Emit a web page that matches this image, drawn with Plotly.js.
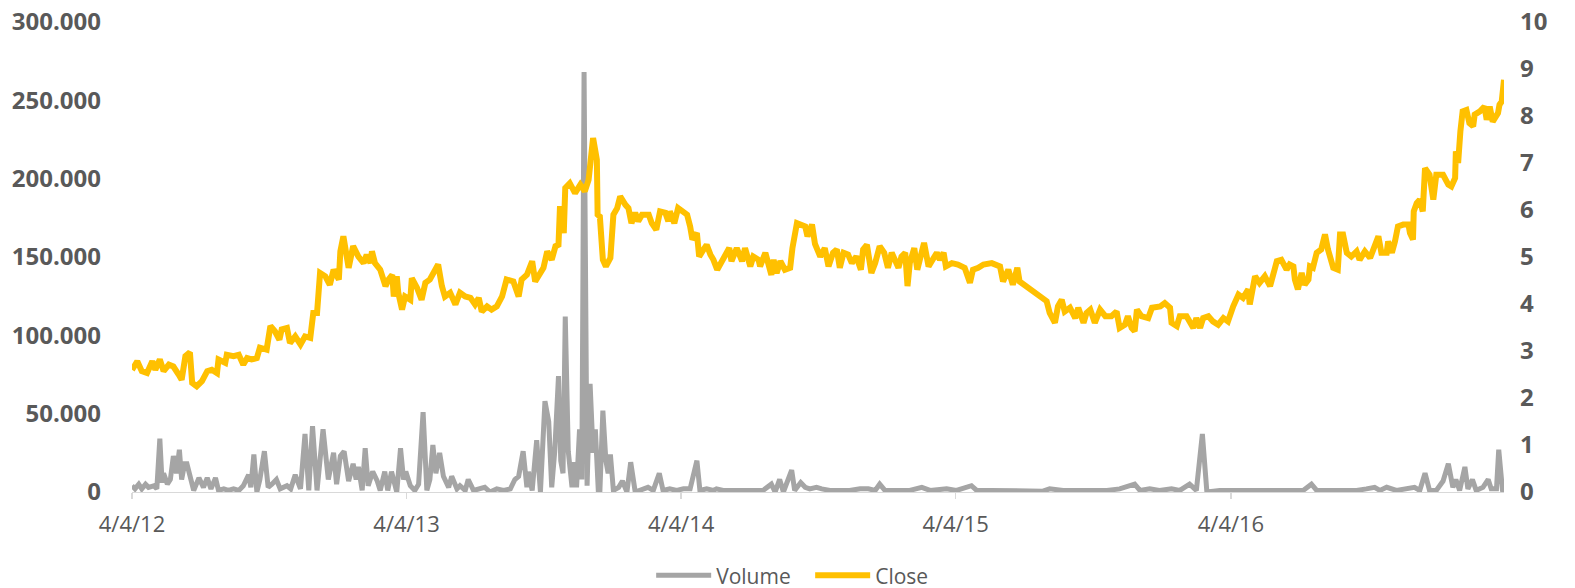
<!DOCTYPE html>
<html>
<head>
<meta charset="utf-8">
<script src="https://cdn.plot.ly/plotly-3.0.1.min.js"></script>
<style>html,body{margin:0;padding:0;background:#fff;}#chart{width:1575px;height:588px;}</style>
</head>
<body>
<div id="chart"></div>
<script>
const closeDates = ["2012-04-04","2012-04-11","2012-04-17","2012-04-24","2012-05-01","2012-05-05","2012-05-11","2012-05-16","2012-05-23","2012-05-29","2012-06-05","2012-06-09","2012-06-14","2012-06-20","2012-06-23","2012-06-29","2012-07-06","2012-07-13","2012-07-19","2012-07-26","2012-07-28","2012-08-06","2012-08-08","2012-08-17","2012-08-24","2012-08-30","2012-09-04","2012-09-10","2012-09-17","2012-09-21","2012-09-30","2012-10-05","2012-10-11","2012-10-17","2012-10-20","2012-10-27","2012-10-31","2012-11-07","2012-11-14","2012-11-20","2012-11-27","2012-12-01","2012-12-06","2012-12-10","2012-12-17","2012-12-23","2012-12-28","2013-01-04","2013-01-06","2013-01-10","2013-01-17","2013-01-23","2013-01-30","2013-02-06","2013-02-10","2013-02-15","2013-02-17","2013-02-21","2013-02-28","2013-03-04","2013-03-07","2013-03-11","2013-03-16","2013-03-18","2013-03-22","2013-03-24","2013-03-29","2013-04-02","2013-04-09","2013-04-11","2013-04-18","2013-04-24","2013-04-29","2013-05-05","2013-05-10","2013-05-16","2013-05-21","2013-05-25","2013-06-01","2013-06-08","2013-06-14","2013-06-21","2013-06-28","2013-07-04","2013-07-09","2013-07-13","2013-07-20","2013-07-26","2013-08-02","2013-08-09","2013-08-15","2013-08-24","2013-08-31","2013-09-04","2013-09-11","2013-09-18","2013-09-22","2013-09-29","2013-10-03","2013-10-08","2013-10-14","2013-10-19","2013-10-23","2013-10-25","2013-10-30","2013-11-01","2013-11-07","2013-11-14","2013-11-21","2013-11-27","2013-12-02","2013-12-08","2013-12-13","2013-12-14","2013-12-17","2013-12-21","2013-12-25","2013-12-31","2014-01-04","2014-01-09","2014-01-13","2014-01-20","2014-01-24","2014-01-28","2014-02-02","2014-02-06","2014-02-11","2014-02-20","2014-02-24","2014-03-02","2014-03-07","2014-03-14","2014-03-18","2014-03-20","2014-03-26","2014-03-31","2014-04-07","2014-04-12","2014-04-16","2014-04-19","2014-04-25","2014-04-28","2014-05-04","2014-05-08","2014-05-13","2014-05-17","2014-05-22","2014-05-28","2014-06-01","2014-06-07","2014-06-10","2014-06-17","2014-06-24","2014-06-28","2014-07-05","2014-07-09","2014-07-16","2014-07-18","2014-07-25","2014-07-29","2014-08-02","2014-08-05","2014-08-09","2014-08-14","2014-08-20","2014-08-27","2014-08-30","2014-09-05","2014-09-11","2014-09-16","2014-09-19","2014-09-25","2014-09-29","2014-10-06","2014-10-12","2014-10-17","2014-10-23","2014-10-28","2014-11-01","2014-11-06","2014-11-12","2014-11-17","2014-11-23","2014-11-29","2014-12-02","2014-12-07","2014-12-13","2014-12-18","2014-12-24","2014-12-30","2015-01-04","2015-01-09","2015-01-18","2015-01-22","2015-01-27","2015-01-30","2015-02-02","2015-02-08","2015-02-12","2015-02-17","2015-02-21","2015-02-27","2015-03-05","2015-03-10","2015-03-14","2015-03-19","2015-03-22","2015-03-30","2015-04-07","2015-04-16","2015-04-23","2015-04-27","2015-05-04","2015-05-11","2015-05-22","2015-06-02","2015-06-06","2015-06-13","2015-06-19","2015-06-25","2015-06-28","2015-08-03","2015-08-07","2015-08-14","2015-08-18","2015-08-23","2015-08-27","2015-09-03","2015-09-10","2015-09-14","2015-09-21","2015-09-25","2015-09-30","2015-10-06","2015-10-13","2015-10-20","2015-10-28","2015-11-04","2015-11-08","2015-11-15","2015-11-19","2015-11-24","2015-11-28","2015-12-01","2015-12-07","2015-12-16","2015-12-21","2015-12-27","2016-01-01","2016-01-07","2016-01-14","2016-01-16","2016-01-23","2016-01-27","2016-02-05","2016-02-09","2016-02-14","2016-02-18","2016-02-23","2016-02-27","2016-03-05","2016-03-11","2016-03-18","2016-03-25","2016-03-31","2016-04-07","2016-04-14","2016-04-20","2016-04-27","2016-04-29","2016-05-06","2016-05-12","2016-05-19","2016-05-26","2016-06-04","2016-06-10","2016-06-17","2016-06-21","2016-06-26","2016-06-28","2016-07-02","2016-07-07","2016-07-11","2016-07-16","2016-07-18","2016-07-22","2016-07-27","2016-08-02","2016-08-07","2016-08-11","2016-08-18","2016-08-24","2016-08-27","2016-08-31","2016-09-05","2016-09-11","2016-09-18","2016-09-22","2016-09-29","2016-10-06","2016-10-10","2016-10-17","2016-10-21","2016-10-28","2016-10-30","2016-11-04","2016-11-08","2016-11-12","2016-11-19","2016-11-26","2016-11-28","2016-12-02","2016-12-03","2016-12-07","2016-12-11","2016-12-15","2016-12-18","2016-12-24","2016-12-29","2017-01-02","2017-01-11","2017-01-18","2017-01-22","2017-01-27","2017-01-28","2017-01-31","2017-02-03","2017-02-06","2017-02-11","2017-02-15","2017-02-20","2017-02-22","2017-03-01","2017-03-07","2017-03-10","2017-03-14","2017-03-18","2017-03-25","2017-03-27","2017-03-30","2017-04-02"];
const closeVals = [2.60,2.78,2.57,2.53,2.78,2.60,2.82,2.57,2.71,2.67,2.50,2.39,2.89,2.97,2.32,2.25,2.36,2.57,2.60,2.53,2.82,2.75,2.92,2.89,2.92,2.71,2.85,2.82,2.85,3.07,3.03,3.53,3.42,3.24,3.46,3.49,3.17,3.31,3.14,3.31,3.28,3.81,3.81,4.66,4.59,4.41,4.73,4.52,5.12,5.44,4.77,5.23,5.01,4.87,5.05,4.87,5.12,4.87,4.73,4.52,4.38,4.52,4.62,4.16,4.59,4.24,3.88,4.16,4.09,4.55,4.34,4.09,4.45,4.52,4.69,4.84,4.38,4.16,4.24,3.99,4.24,4.16,4.13,3.99,4.13,3.84,3.95,3.88,3.95,4.16,4.52,4.48,4.16,4.52,4.62,4.91,4.48,4.69,4.77,5.12,4.94,5.23,5.26,6.08,5.51,6.47,6.57,6.36,6.54,6.40,6.64,7.53,7.07,5.90,5.86,4.94,4.80,4.98,5.90,6.04,6.29,6.11,6.04,5.72,5.94,5.76,5.90,5.90,5.72,5.58,5.97,5.94,5.76,5.97,5.72,6.04,5.97,5.90,5.65,5.37,5.51,5.01,5.16,5.26,5.05,4.94,4.73,4.91,5.05,5.19,4.91,5.19,4.91,5.19,4.80,5.01,4.94,4.80,5.09,4.84,4.62,4.94,4.66,4.91,4.73,4.77,5.19,5.72,5.69,5.65,5.44,5.69,5.28,5.01,5.19,4.80,5.09,5.16,4.77,5.09,5.05,4.87,5.01,4.73,5.16,5.26,4.66,4.87,5.23,5.09,4.77,5.09,4.77,5.01,5.09,4.38,4.87,5.19,4.73,5.05,5.30,4.80,4.98,5.09,4.94,5.09,4.80,4.87,4.84,4.77,4.45,4.73,4.77,4.84,4.87,4.80,4.48,4.73,4.41,4.77,4.48,4.06,3.81,3.60,3.95,4.09,3.84,3.92,3.70,3.92,3.60,3.81,3.88,3.60,3.88,3.74,3.74,3.84,3.49,3.56,3.74,3.49,3.42,3.88,3.74,3.70,3.92,3.92,3.95,4.02,3.92,3.60,3.53,3.74,3.74,3.63,3.49,3.70,3.49,3.70,3.74,3.63,3.56,3.70,3.63,3.95,4.20,4.13,4.31,3.99,4.59,4.45,4.59,4.38,4.91,4.94,4.73,4.84,4.80,4.52,4.31,4.66,4.41,4.52,4.80,4.77,5.09,5.16,5.48,5.16,4.77,4.73,5.48,5.48,5.09,5.01,5.12,4.94,5.12,4.98,5.16,5.44,5.09,5.09,5.33,5.09,5.33,5.65,5.69,5.69,5.51,5.37,5.97,6.15,6.22,5.97,6.89,6.75,6.22,6.75,6.75,6.54,6.50,6.68,7.25,7.00,7.67,8.10,8.13,7.85,7.78,8.03,8.10,8.20,7.92,8.20,7.88,8.06,8.24,8.31,8.77];

const volDates = ["2012-04-04","2012-04-08","2012-04-13","2012-04-17","2012-04-22","2012-04-26","2012-05-03","2012-05-07","2012-05-11","2012-05-14","2012-05-16","2012-05-21","2012-05-25","2012-05-29","2012-06-02","2012-06-06","2012-06-09","2012-06-13","2012-06-16","2012-06-20","2012-06-25","2012-07-02","2012-07-08","2012-07-13","2012-07-18","2012-07-24","2012-07-28","2012-08-04","2012-08-10","2012-08-17","2012-08-24","2012-08-30","2012-09-06","2012-09-09","2012-09-13","2012-09-17","2012-09-21","2012-09-27","2012-10-02","2012-10-07","2012-10-13","2012-10-18","2012-10-22","2012-10-27","2012-11-01","2012-11-07","2012-11-14","2012-11-20","2012-11-25","2012-11-30","2012-12-06","2012-12-14","2012-12-21","2012-12-28","2013-01-01","2013-01-06","2013-01-11","2013-01-17","2013-01-23","2013-01-27","2013-01-30","2013-02-04","2013-02-08","2013-02-12","2013-02-18","2013-02-24","2013-02-28","2013-03-06","2013-03-10","2013-03-15","2013-03-22","2013-03-27","2013-03-31","2013-04-03","2013-04-09","2013-04-15","2013-04-20","2013-04-26","2013-05-01","2013-05-05","2013-05-09","2013-05-13","2013-05-18","2013-05-23","2013-05-30","2013-06-03","2013-06-10","2013-06-14","2013-06-21","2013-06-25","2013-07-02","2013-07-09","2013-07-17","2013-07-24","2013-08-02","2013-08-11","2013-08-20","2013-08-26","2013-08-31","2013-09-06","2013-09-11","2013-09-13","2013-09-18","2013-09-24","2013-09-29","2013-10-05","2013-10-10","2013-10-14","2013-10-18","2013-10-23","2013-10-26","2013-10-29","2013-11-01","2013-11-05","2013-11-10","2013-11-13","2013-11-16","2013-11-20","2013-11-23","2013-11-26","2013-11-30","2013-12-04","2013-12-08","2013-12-11","2013-12-15","2013-12-17","2013-12-21","2013-12-25","2013-12-28","2013-12-31","2014-01-04","2014-01-11","2014-01-16","2014-01-22","2014-01-27","2014-02-02","2014-02-11","2014-02-19","2014-02-26","2014-03-06","2014-03-11","2014-03-20","2014-03-29","2014-04-07","2014-04-16","2014-04-25","2014-04-29","2014-05-08","2014-05-17","2014-05-21","2014-05-30","2014-06-12","2014-06-26","2014-07-09","2014-07-22","2014-08-02","2014-08-07","2014-08-13","2014-08-18","2014-08-29","2014-09-02","2014-09-10","2014-09-16","2014-09-22","2014-10-01","2014-10-08","2014-10-19","2014-11-01","2014-11-14","2014-11-28","2014-12-09","2014-12-18","2014-12-24","2014-12-31","2015-01-16","2015-02-02","2015-02-18","2015-03-01","2015-03-23","2015-04-05","2015-04-25","2015-05-02","2015-05-20","2015-06-06","2015-06-24","2015-07-12","2015-07-29","2015-08-07","2015-08-25","2015-09-12","2015-09-30","2015-10-22","2015-11-08","2015-11-28","2015-12-05","2015-12-18","2015-12-31","2016-01-16","2016-01-27","2016-02-09","2016-02-18","2016-02-26","2016-03-03","2016-03-20","2016-04-07","2016-04-25","2016-05-12","2016-05-30","2016-06-21","2016-07-09","2016-07-20","2016-07-27","2016-08-13","2016-08-31","2016-09-18","2016-10-01","2016-10-12","2016-10-19","2016-10-28","2016-11-10","2016-11-23","2016-12-04","2016-12-11","2016-12-18","2016-12-24","2017-01-02","2017-01-11","2017-01-18","2017-01-24","2017-01-28","2017-02-02","2017-02-09","2017-02-13","2017-02-19","2017-02-24","2017-03-05","2017-03-12","2017-03-16","2017-03-23","2017-03-26","2017-03-31","2017-04-02"];
const volVals = [4000,2000,5000,2000,5000,3000,4000,2000,34000,6000,12000,5000,8000,23000,12000,27000,8000,18000,18000,10000,1000,9000,3000,9000,2000,9000,1000,2000,1000,2000,1000,4000,11000,3000,24000,0,8000,26000,3000,5000,8000,2000,3000,4000,2000,11000,2000,37000,1000,42000,1000,40000,8000,25000,5000,23000,26000,7000,18000,8000,16000,1000,28000,4000,13000,7000,1000,13000,1000,13000,0,28000,8000,13000,4000,1000,5000,51000,1000,8000,30000,12000,25000,10000,3000,10000,2000,4000,1000,8000,1000,2000,3000,0,2000,1000,2000,8000,10000,26000,3000,13000,1000,33000,0,58000,45000,3000,26000,74000,20000,12000,112000,26000,3000,19000,3000,40000,8000,268000,4000,69000,25000,40000,0,0,52000,20000,12000,24000,1000,3000,7000,0,19000,0,2000,3000,1000,12000,1000,2000,1000,2000,2000,20000,1000,2000,1000,2000,1000,1000,1000,1000,1000,5000,0,8000,0,14000,1000,6000,3000,2000,3000,2000,1000,1000,1000,2000,2000,1000,5000,1000,1000,1000,3000,1000,2000,1000,4000,1000,1000,1000,1000,500,500,2000,1000,1000,1000,1000,2000,5000,1000,2000,1000,2000,1000,5000,1000,37000,0,1000,1000,1000,1000,1000,1000,1000,5000,1000,1000,1000,1000,2000,3000,1000,3000,1000,2000,3000,1000,12000,1000,1000,7000,18000,3000,8000,1000,16000,2000,8000,1000,3000,8000,2000,2000,27000,1000,0];

const xTickVals = ["2012-04-04","2013-04-04","2014-04-04","2015-04-04","2016-04-04"];
const xTickText = ["4/4/12","4/4/13","4/4/14","4/4/15","4/4/16"];
const seriesNames = ["Volume","Close"];

const txt = '#595959';
const fontFam = '"Open Sans", "Noto Sans", sans-serif';

const traces = [
  {x: volDates, y: volVals, name: seriesNames[0], type: 'scatter', mode: 'lines',
   line: {color: '#A5A5A5', width: 5}, yaxis: 'y'},
  {x: closeDates, y: closeVals, name: seriesNames[1], type: 'scatter', mode: 'lines',
   line: {color: '#FFC000', width: 6}, yaxis: 'y2'}
];

const layout = {
  width: 1575, height: 588,
  margin: {l: 132, r: 71, t: 22, b: 96, pad: 0, autoexpand: false},
  paper_bgcolor: '#ffffff', plot_bgcolor: '#ffffff',
  separators: ',.',
  font: {family: fontFam, color: txt},
  showlegend: true,
  legend: {orientation: 'h', x: 0.3784, xanchor: 'left', xref: 'paper',
           y: -0.178, yanchor: 'middle', yref: 'paper',
           font: {size: 21, color: txt, family: fontFam}, itemwidth: 55, traceorder: 'normal',
           entrywidth: 89, entrywidthmode: 'pixels',
           bgcolor: 'rgba(0,0,0,0)'},
  xaxis: {type: 'date', range: ['2012-04-04', '2017-04-02'],
          tickmode: 'array', tickvals: xTickVals, ticktext: xTickText,
          showgrid: false, zeroline: false, showline: true, linecolor: '#D9D9D9', linewidth: 1.3,
          ticks: 'outside', ticklen: 6, tickcolor: '#D9D9D9', tickwidth: 1.3,
          tickfont: {size: 22, color: txt, family: fontFam}, ticklabelstandoff: 6},
  yaxis: {range: [0, 300000], dtick: 50000, tick0: 0, tickformat: ',d',
          showgrid: false, zeroline: false, showline: false, ticks: '',
          tickfont: {size: 24, color: txt, family: fontFam, weight: 'bold'}, ticklabelstandoff: 30},
  yaxis2: {range: [0, 10], dtick: 1, tick0: 0, overlaying: 'y', side: 'right',
           showgrid: false, zeroline: false, showline: false, ticks: '',
           tickfont: {size: 24, color: txt, family: fontFam, weight: 'bold'}, ticklabelstandoff: 15}
};

Plotly.newPlot('chart', traces, layout, {displayModeBar: false, staticPlot: true});
</script>
</body>
</html>
